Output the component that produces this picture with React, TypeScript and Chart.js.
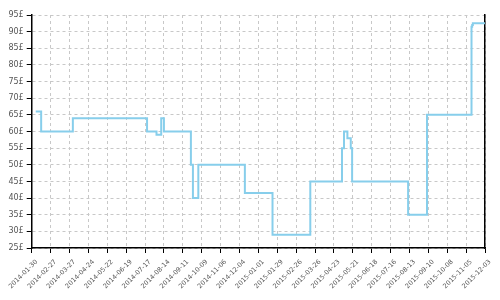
import React, { useEffect, useRef } from "react";
import { Chart, registerables } from "chart.js";

Chart.register(...registerables);

const startDate = "2014-01-30";
const endDate = "2015-12-03";
const changeDates = [
  "2014-02-05", "2014-02-13", "2014-04-01", "2014-07-20", "2014-08-03",
  "2014-08-10", "2014-08-14", "2014-09-23", "2014-09-26", "2014-10-04",
  "2014-12-12", "2015-01-22", "2015-03-19", "2015-05-05", "2015-05-08",
  "2015-05-13", "2015-05-18", "2015-05-20", "2015-08-11", "2015-09-08",
  "2015-11-13", "2015-11-14", "2015-11-15", "2015-12-03",
];
const prices = [
  66, 60, 64, 60, 59,
  64, 60, 50, 40, 50,
  41.5, 29, 45, 55, 60,
  58, 55, 45, 35, 65,
  91.5, 92, 92.5, 92.5,
];
const yMin = 25;
const yMax = 95;
const yStep = 5;
const xStepDays = 28;
const currency = "£";

const DAY = 86400000;
const toMs = (s: string) => new Date(s + "T00:00:00Z").getTime();
const t0 = toMs(startDate);
const toDay = (s: string) => Math.round((toMs(s) - t0) / DAY);
const dayLabel = (d: number) => new Date(t0 + d * DAY).toISOString().slice(0, 10);

export default function App() {
  const ref = useRef<HTMLCanvasElement>(null);
  useEffect(() => {
    if (!ref.current) return;
    const points = changeDates.map((d, i) => ({ x: toDay(d), y: prices[i] }));
    const chart = new Chart(ref.current, {
      type: "line",
      data: {
        datasets: [
          {
            data: points,
            borderColor: "#87CEEB",
            borderWidth: 2,
            pointRadius: 0,
            stepped: "before",
            fill: false,
          },
        ],
      },
      options: {
        animation: false,
        responsive: true,
        maintainAspectRatio: false,
        layout: { padding: { top: 15, right: 15, left: 0, bottom: 0 } },
        plugins: { legend: { display: false }, tooltip: { enabled: false } },
        scales: {
          x: {
            type: "linear",
            min: 0,
            max: toDay(endDate),
            afterFit: (s: any) => { s.height = 52; },
            ticks: {
              stepSize: xStepDays,
              autoSkip: false,
              minRotation: 45,
              maxRotation: 45,
              color: "#555",
              font: { family: "DejaVu Sans", size: 6.5 },
              padding: 5,
              labelOffset: 5,
              callback: (v: any) => dayLabel(Number(v)),
            },
            grid: {
              color: "#c8c8c8",
              tickColor: "#000",
              tickLength: 5,
            },
            border: { color: "#000", width: 1.5, dash: [3, 3] },
          },
          y: {
            min: yMin,
            max: yMax,
            afterFit: (s: any) => { s.width = 30; },
            ticks: {
              stepSize: yStep,
              color: "#555",
              font: { family: "DejaVu Sans", size: 8 },
              padding: 3,
              callback: (v: any) => v + currency,
            },
            grid: {
              color: "#c8c8c8",
              tickColor: "#000",
              tickLength: 5,
            },
            border: { color: "#000", width: 1.5, dash: [3, 3] },
          },
          y2: {
            position: "right",
            min: yMin,
            max: yMax,
            afterFit: (s: any) => { s.width = 0; },
            ticks: { display: false },
            grid: { drawOnChartArea: false, drawTicks: false },
            border: { color: "#000", width: 1.5 },
          },
        },
      },
    });
    return () => chart.destroy();
  }, []);
  return (
    <div style={{ position: "absolute", left: 0, top: 0, width: 500, height: 300 }}>
      <canvas ref={ref} />
    </div>
  );
}
